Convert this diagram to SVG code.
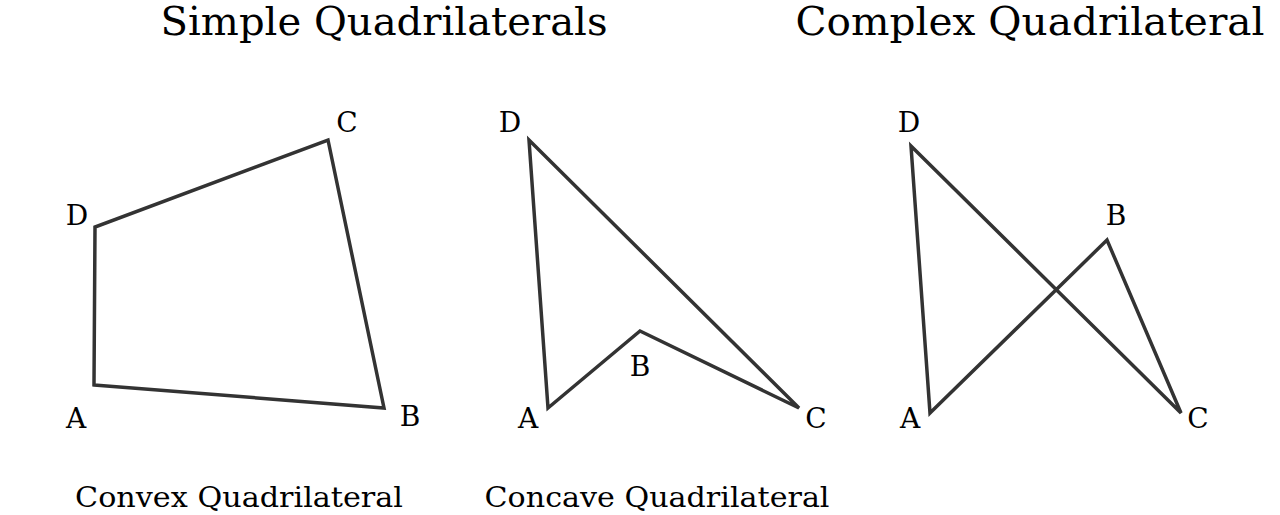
<svg xmlns="http://www.w3.org/2000/svg" width="1280" height="515" viewBox="0 0 1280 515">
<style>
text{font-family:"DejaVu Serif","Liberation Serif",serif;fill:#000;text-anchor:middle}
.t{font-size:40px}
.s{font-size:27px}
.l{font-size:28px}
.q{fill:none;stroke:#333;stroke-width:3.5;stroke-linejoin:miter}
</style>
<rect width="1280" height="515" fill="#fff"/>
<g id="titles">
<text class="t" x="384" y="35" textLength="447" lengthAdjust="spacingAndGlyphs">Simple Quadrilaterals</text>
<text class="t" x="1030" y="35" textLength="469" lengthAdjust="spacingAndGlyphs">Complex Quadrilateral</text>
</g>
<g id="connectors">
<polygon class="q" points="94,385 384,408 328,140 95,227"/>
<polygon class="q" points="548,408 640,331 799,408 529,140"/>
<polygon class="q" points="930,413 1107,240 1181,413 911,146"/>
</g>
<g id="convex">
<text class="l" x="76" y="428">A</text>
<text class="l" x="410" y="426">B</text>
<text class="l" x="347" y="132">C</text>
<text class="l" x="77" y="225">D</text>
<text class="s" x="239" y="507" textLength="328" lengthAdjust="spacingAndGlyphs">Convex Quadrilateral</text>
</g>
<g id="concave">
<text class="l" x="528" y="428">A</text>
<text class="l" x="640" y="376">B</text>
<text class="l" x="816" y="428">C</text>
<text class="l" x="510" y="132">D</text>
<text class="s" x="657" y="507" textLength="345" lengthAdjust="spacingAndGlyphs">Concave Quadrilateral</text>
</g>
<g id="complex">
<text class="l" x="910" y="428">A</text>
<text class="l" x="1116" y="225">B</text>
<text class="l" x="1198" y="428">C</text>
<text class="l" x="909" y="132">D</text>
</g>
</svg>
